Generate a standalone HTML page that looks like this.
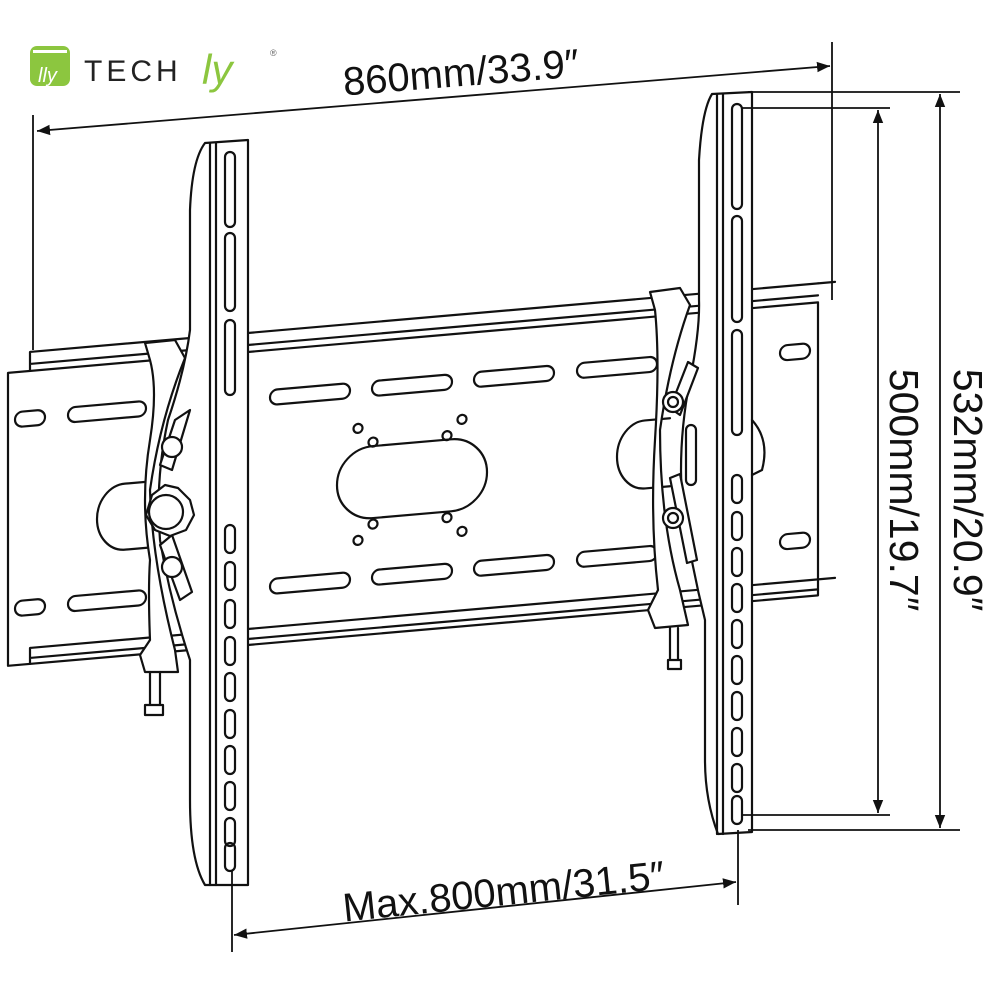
<!DOCTYPE html>
<html><head><meta charset="utf-8"><style>
html,body{margin:0;padding:0;background:#fff;}
svg{display:block}
text{font-family:"Liberation Sans",sans-serif;fill:#111}
</style></head><body>
<svg width="992" height="992" viewBox="0 0 992 992" xmlns="http://www.w3.org/2000/svg">
<defs>
<marker id="ar" viewBox="0 0 10 10" refX="10" refY="5" markerWidth="13" markerHeight="13" orient="auto-start-reverse" markerUnits="userSpaceOnUse">
<path d="M0,1 L10,5 L0,9 Z" fill="#111"/>
</marker>
</defs>
<!-- logo -->
<rect x="30" y="46" width="40" height="40" rx="7" fill="#8cc63f"/>
<rect x="33" y="50" width="34" height="3" fill="#fff"/>
<text x="38" y="82" font-size="20" font-style="italic" style="fill:#fff">lly</text>
<text x="84" y="81" font-size="30" letter-spacing="4" style="fill:#222">TECH</text>
<text x="202" y="84" font-size="42" font-style="italic" style="fill:#8cc63f">ly</text>
<text x="270" y="56" font-size="9" style="fill:#666">®</text>

<g fill="none" stroke="#111" stroke-width="2.2" stroke-linejoin="round" stroke-linecap="round">
<!-- wall plate skewed -->
<g transform="translate(420 480) skewY(-4.97) translate(-420 -480)">
  <path d="M8,337 L818,337 L818,630 L8,630 Z" fill="#fff"/>
  <path d="M30,318 L818,318 M30,330 L818,330 M30,318 L30,337"/>
  <path d="M30,614 L818,614 M30,624 L818,624 M30,614 L30,630"/>
  <path d="M818,318 L835,318 M818,614 L835,614"/>
  <rect x="15" y="377" width="30" height="15" rx="7.5"/>
  <rect x="68" y="377" width="78" height="15" rx="7.5"/>
  <rect x="15" y="566" width="30" height="15" rx="7.5"/>
  <rect x="68" y="566" width="78" height="15" rx="7.5"/>
  <rect x="270" y="377" width="80" height="15" rx="7.5"/>
  <rect x="372" y="377" width="80" height="15" rx="7.5"/>
  <rect x="474" y="377" width="80" height="15" rx="7.5"/>
  <rect x="577" y="377" width="80" height="15" rx="7.5"/>
  <rect x="270" y="566" width="80" height="15" rx="7.5"/>
  <rect x="372" y="566" width="80" height="15" rx="7.5"/>
  <rect x="474" y="566" width="80" height="15" rx="7.5"/>
  <rect x="577" y="566" width="80" height="15" rx="7.5"/>
  <rect x="780" y="377" width="30" height="15" rx="7.5"/>
  <rect x="780" y="566" width="30" height="15" rx="7.5"/>
  <rect x="337" y="442" width="150" height="72" rx="36"/>
  <circle cx="358" cy="423" r="4.5"/><circle cx="462" cy="423" r="4.5"/>
  <circle cx="373" cy="438" r="4.5"/><circle cx="447" cy="438" r="4.5"/>
  <circle cx="373" cy="520" r="4.5"/><circle cx="447" cy="520" r="4.5"/>
  <circle cx="358" cy="535" r="4.5"/><circle cx="462" cy="535" r="4.5"/>
  <path d="M150,458 L125,458 A28,33 0 0 0 125,524 L150,524" fill="#fff"/>
  <path d="M670,440 L645,440 A28,34 0 0 0 645,508 L670,508" fill="#fff"/>
</g>

<!-- left hinge bracket -->
<path d="M145,343 L175,340 L185,358 Q160,420 150,490 Q152,560 175,650 L178,672 L145,672 L140,655 L150,640 Q148,590 150,560 Q140,500 150,440 Q158,390 150,360 Z" fill="#fff"/>
<path d="M150,672 L150,705 M160,672 L160,705 M145,705 h18 v10 h-18 z"/>
<!-- left bar -->
<path d="M205,143 L248,140 L248,885 L205,885 Q190,860 190,800 L190,660 Q170,600 160,540 Q155,480 168,420 Q185,370 190,330 L190,210 Q192,160 205,143 Z" fill="#fff"/>
<path d="M210,143 L210,885 M216,143 L216,885"/>
<rect x="225" y="152" width="10" height="75" rx="5"/>
<rect x="225" y="233" width="10" height="78" rx="5"/>
<rect x="225" y="320" width="10" height="75" rx="5"/>
<rect x="225" y="525" width="10" height="28" rx="5"/>
<rect x="225" y="562" width="10" height="28" rx="5"/>
<rect x="225" y="600" width="10" height="28" rx="5"/>
<rect x="225" y="637" width="10" height="28" rx="5"/>
<rect x="225" y="673" width="10" height="28" rx="5"/>
<rect x="225" y="710" width="10" height="28" rx="5"/>
<rect x="225" y="746" width="10" height="28" rx="5"/>
<rect x="225" y="782" width="10" height="28" rx="5"/>
<rect x="225" y="818" width="10" height="28" rx="5"/>
<rect x="225" y="843" width="10" height="28" rx="5"/>
<!-- left knob assembly -->
<path d="M175,420 L190,410 L172,470 L160,465 Z" fill="#fff"/>
<path d="M172,535 L160,545 L180,600 L192,592 Z" fill="#fff"/>
<circle cx="172" cy="447" r="10" fill="#fff"/>
<circle cx="172" cy="567" r="10" fill="#fff"/>
<path d="M152,495 L165,485 L178,488 L190,500 L194,515 L186,530 L170,536 L155,530 L146,515 Z" fill="#fff"/>
<circle cx="166" cy="512" r="17" fill="#fff"/>

<!-- right hinge bracket -->
<path d="M650,292 L680,288 L690,305 Q670,360 660,430 Q660,520 680,590 L688,625 L655,628 L648,610 L658,590 Q650,520 655,440 Q660,360 655,310 Z" fill="#fff"/>
<path d="M670,628 L670,660 M678,628 L678,660 M668,660 h13 v9 h-13 z"/>
<!-- right bar -->
<path d="M712,94 L752,92 L752,832 L718,834 Q705,800 705,760 L705,620 Q690,560 682,500 Q678,440 690,380 Q700,330 699,300 L699,160 Q702,110 712,94 Z" fill="#fff"/>
<path d="M717,94 L717,834 M723,94 L723,834"/>
<path d="M752,420 Q770,440 762,470 M752,475 L762,470"/>
<rect x="732" y="104" width="10" height="105" rx="5"/>
<rect x="732" y="216" width="10" height="106" rx="5"/>
<rect x="732" y="330" width="10" height="105" rx="5"/>
<rect x="732" y="475" width="10" height="28" rx="5"/>
<rect x="732" y="512" width="10" height="28" rx="5"/>
<rect x="732" y="548" width="10" height="28" rx="5"/>
<rect x="732" y="584" width="10" height="28" rx="5"/>
<rect x="732" y="620" width="10" height="28" rx="5"/>
<rect x="732" y="656" width="10" height="28" rx="5"/>
<rect x="732" y="692" width="10" height="28" rx="5"/>
<rect x="732" y="728" width="10" height="28" rx="5"/>
<rect x="732" y="764" width="10" height="28" rx="5"/>
<rect x="732" y="796" width="10" height="28" rx="5"/>
<!-- right knob assembly -->
<path d="M688,362 L698,368 L680,415 L670,408 Z" fill="#fff"/>
<path d="M670,478 L680,474 L697,560 L687,563 Z" fill="#fff"/>
<rect x="686" y="425" width="10" height="60" rx="5" fill="#fff"/>
<circle cx="673" cy="402" r="10" fill="#fff"/><circle cx="673" cy="402" r="5"/>
<circle cx="673" cy="518" r="10" fill="#fff"/><circle cx="673" cy="518" r="5"/>
</g>

<!-- dimensions -->
<g stroke="#111" stroke-width="1.8" fill="none">
<path d="M33,115 L33,350 M832,42 L832,300"/>
<path d="M37,131 L830,66" marker-start="url(#ar)" marker-end="url(#ar)"/>
<path d="M742,108 L890,108 M742,815 L890,815 M748,92 L960,92 M748,830 L960,830"/>
<path d="M878,110 L878,813" marker-start="url(#ar)" marker-end="url(#ar)"/>
<path d="M940,94 L940,828" marker-start="url(#ar)" marker-end="url(#ar)"/>
<path d="M232,870 L232,952 M738,830 L738,905"/>
<path d="M234,935 L736,882" marker-start="url(#ar)" marker-end="url(#ar)"/>
</g>
<text x="462" y="86" font-size="40" text-anchor="middle" transform="rotate(-4.6 462 86)">860mm/33.9″</text>
<text x="505" y="905" font-size="40" text-anchor="middle" transform="rotate(-5.9 505 905)">Max.800mm/31.5″</text>
<text x="0" y="0" font-size="41" text-anchor="middle" transform="translate(890 490) rotate(90)">500mm/19.7″</text>
<text x="0" y="0" font-size="41" text-anchor="middle" transform="translate(954 490) rotate(90)">532mm/20.9″</text>
</svg>
</body></html>
